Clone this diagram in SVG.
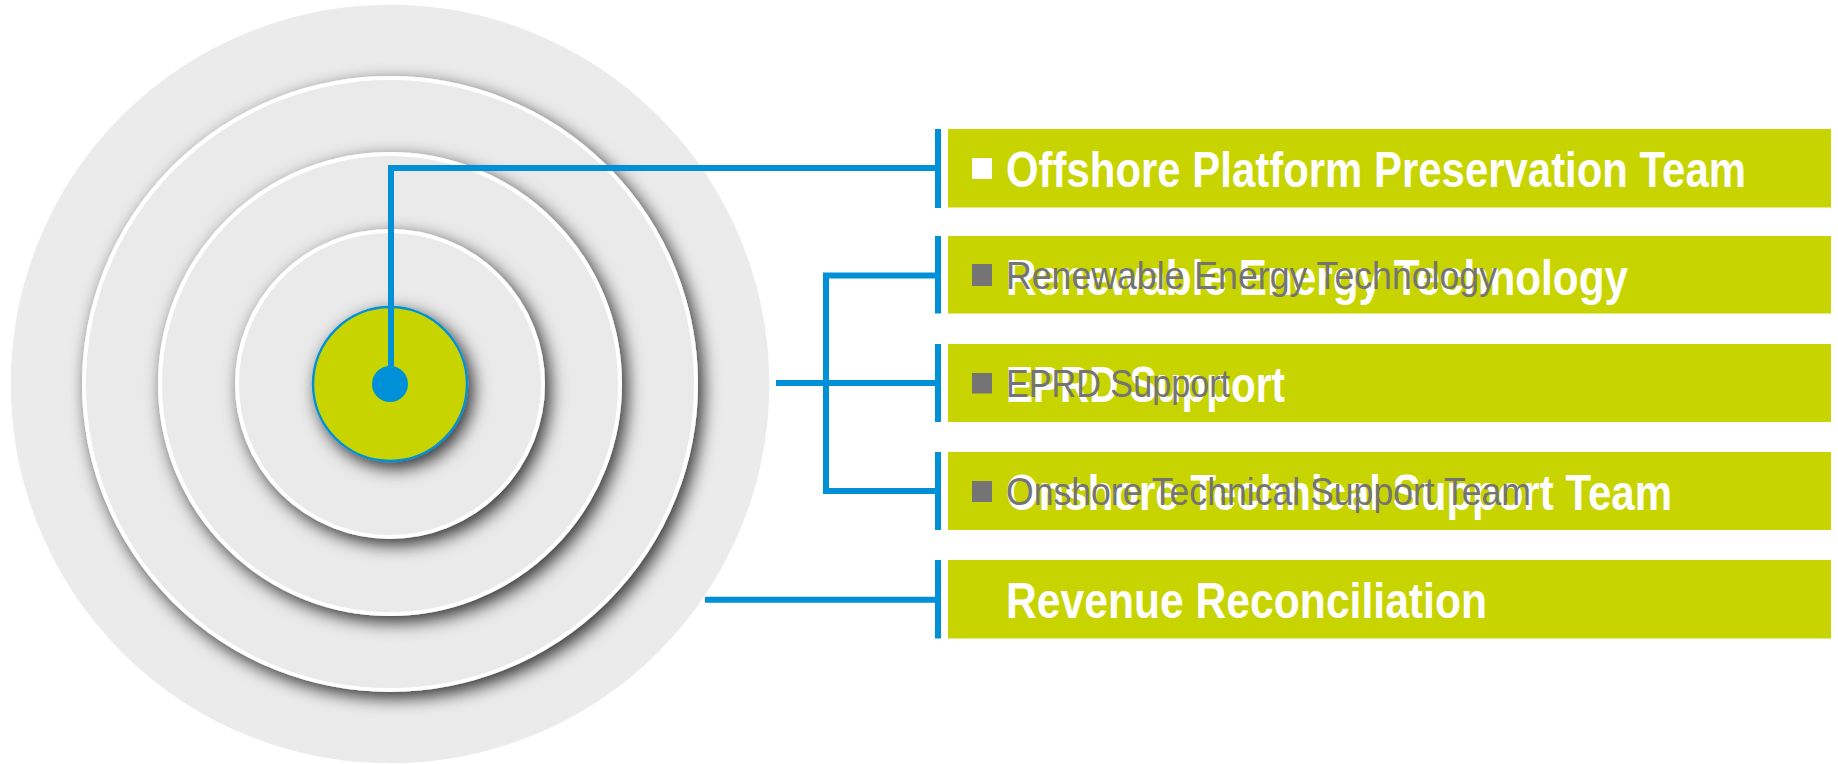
<svg xmlns="http://www.w3.org/2000/svg" width="1838" height="764" viewBox="0 0 1838 764">
  <defs>
    <filter id="sh" x="-20%" y="-20%" width="150%" height="150%">
      <feDropShadow dx="5" dy="6" stdDeviation="8.5" flood-color="#000" flood-opacity="0.8"/>
    </filter>
  </defs>
  <style>
    .ring { fill: #EAEAEA; stroke: #FFFFFF; stroke-width: 4; filter: url(#sh); }
    .box { fill: #C8D400; }
    .bar { fill: #0090D7; }
    .wt { font-family: "Liberation Sans", Arial, sans-serif; font-weight: bold; font-size: 50px; fill: #FFFFFF; }
    .gt { font-family: "Liberation Sans", Arial, sans-serif; font-size: 38.5px; fill: #747474; }
    .conn { fill: none; stroke: #0090D7; stroke-width: 6; stroke-linejoin: miter; }
  </style>
  <rect width="1838" height="764" fill="#FFFFFF"/>

  <g id="target">
    <circle cx="390" cy="384" r="380" fill="#EBEBEB" stroke="#FFFFFF" stroke-width="1.5"/>
    <circle class="ring" cx="390" cy="384" r="306"/>
    <circle class="ring" cx="390" cy="384" r="230"/>
    <circle class="ring" cx="390" cy="384" r="153"/>
    <circle cx="390" cy="384" r="77" fill="#C8D400" stroke="#0090D7" stroke-width="2.5" filter="url(#sh)"/>
  </g>

  <g id="connectors">
    <path class="conn" d="M391 384 V168 H936"/>
    <path class="conn" d="M936 275.5 H826 V491 H936"/>
    <path class="conn" d="M776 383 H936" stroke-width="7"/>
    <path class="conn" d="M705 599.7 H936"/>
    <circle cx="390" cy="384" r="18" fill="#0090D7"/>
  </g>

  <g id="box1">
    <rect class="bar" x="935" y="129" width="6" height="79"/>
    <rect class="box" x="948" y="129" width="883" height="78.5"/>
    <rect x="972" y="158" width="20" height="21" fill="#FFFFFF"/>
    <text class="wt" x="1006" y="187" textLength="740" lengthAdjust="spacingAndGlyphs">Offshore Platform Preservation Team</text>
  </g>

  <g id="box2">
    <rect class="bar" x="935" y="236" width="6" height="77.5"/>
    <rect class="box" x="948" y="236" width="883" height="77.5"/>
    <text class="wt" x="1006" y="294.5" textLength="622" lengthAdjust="spacingAndGlyphs">Renewable Energy Technology</text>
    <rect x="972" y="264" width="20" height="22" fill="#747474"/>
    <text class="gt" x="1006" y="288.5" textLength="491" lengthAdjust="spacingAndGlyphs">Renewable Energy Technology</text>
  </g>

  <g id="box3">
    <rect class="bar" x="935" y="344" width="6" height="78"/>
    <rect class="box" x="948" y="344" width="883" height="78"/>
    <text class="wt" x="1006" y="401.5" textLength="279" lengthAdjust="spacingAndGlyphs">EPRD Support</text>
    <rect x="972" y="373" width="20" height="20.5" fill="#747474"/>
    <text class="gt" x="1006" y="397" textLength="224" lengthAdjust="spacingAndGlyphs">EPRD Support</text>
  </g>

  <g id="box4">
    <rect class="bar" x="935" y="452" width="6" height="78"/>
    <rect class="box" x="948" y="452" width="883" height="78"/>
    <text class="wt" x="1006" y="509.5" textLength="666" lengthAdjust="spacingAndGlyphs">Onshore Technical Support Team</text>
    <rect x="972" y="481" width="20" height="21" fill="#747474"/>
    <text class="gt" x="1006" y="505" textLength="525" lengthAdjust="spacingAndGlyphs">Onshore Technical Support Team</text>
  </g>

  <g id="box5">
    <rect class="bar" x="935" y="560" width="6" height="78.5"/>
    <rect class="box" x="948" y="560" width="883" height="78.5"/>
    <text class="wt" x="1006" y="618" textLength="481" lengthAdjust="spacingAndGlyphs">Revenue Reconciliation</text>
  </g>
</svg>
